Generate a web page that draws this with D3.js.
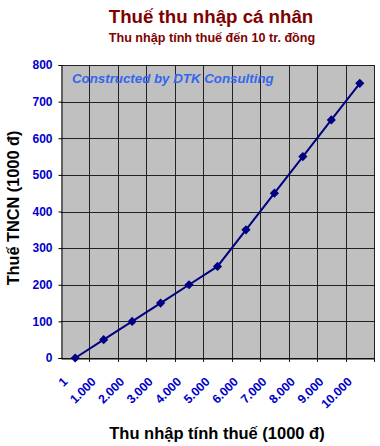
<!DOCTYPE html>
<html><head><meta charset="utf-8">
<script src="https://cdn.jsdelivr.net/npm/d3@7"></script>
<style>body{margin:0;background:#fff}svg{display:block}</style>
</head><body>
<script>
const categories = ["1","1.000","2.000","3.000","4.000","5.000","6.000","7.000","8.000","9.000","10.000"];
const taxValues = [0,50,100,150,200,250,350,450,550,650,750];
const yTicks = [0,100,200,300,400,500,600,700,800];

const W=380,H=446;
const m={left:61,right:6,top:65,bottom:88};
const FONT="Arial, 'Liberation Sans', sans-serif";
const svg=d3.select("body").append("svg").attr("width",W).attr("height",H);
const x=d3.scaleBand().domain(categories).range([m.left,W-m.right]);
const y=d3.scaleLinear().domain([0,800]).range([H-m.bottom,m.top]);

svg.append("rect").attr("x",m.left).attr("y",m.top).attr("width",W-m.right-m.left).attr("height",H-m.bottom-m.top).attr("fill","#c0c0c0");

// horizontal grid
svg.append("g").selectAll("line").data(yTicks).join("line")
  .attr("x1",m.left).attr("x2",W-m.right).attr("y1",d=>Math.round(y(d))+0.5).attr("y2",d=>Math.round(y(d))+0.5)
  .attr("stroke","#222").attr("stroke-width",1);
// vertical grid at category boundaries (with small ticks below axis)
svg.append("g").selectAll("line").data(categories).join("line")
  .attr("x1",d=>Math.round(x(d)+x.bandwidth())+0.5).attr("x2",d=>Math.round(x(d)+x.bandwidth())+0.5)
  .attr("y1",m.top).attr("y2",H-m.bottom+4)
  .attr("stroke","#222").attr("stroke-width",1);

// y axis
const ya=svg.append("g").attr("transform",`translate(${m.left+0.5},0)`)
  .call(d3.axisLeft(y).tickValues(yTicks).tickSize(3).tickPadding(6));
ya.select(".domain").attr("stroke","#000");
ya.selectAll("text").attr("fill","#0000cc").style("font","bold 12px "+FONT);

// x axis
const xa=svg.append("g").attr("transform",`translate(0,${H-m.bottom+0.5})`)
  .call(d3.axisBottom(x).tickSize(0).tickPadding(0));
xa.select(".domain").attr("stroke","#000");
xa.selectAll("text").attr("fill","#0000cc").style("font","bold 12.3px "+FONT)
  .attr("text-anchor","end").attr("dy",null)
  .attr("transform","translate(-7,24) rotate(-45)");

// watermark
svg.append("text").attr("x",72).attr("y",83).text("Constructed by DTK Consulting")
  .attr("fill","#3366ee").style("font","italic bold 13.3px "+FONT);

// line
const cx=(d,i)=>x(categories[i])+x.bandwidth()/2;
const line=d3.line().x(cx).y(d=>y(d));
svg.append("path").datum(taxValues).attr("d",line).attr("fill","none").attr("stroke","#000080").attr("stroke-width",2);
svg.append("g").selectAll("path").data(taxValues).join("path")
  .attr("d",d3.symbol(d3.symbolSquare,42))
  .attr("transform",(d,i)=>`translate(${cx(d,i)},${y(d)}) rotate(45)`)
  .attr("fill","#000080");

// titles
svg.append("text").attr("x",211).attr("y",23).attr("text-anchor","middle").text("Thuế thu nhập cá nhân")
  .attr("fill","#800000").style("font","bold 18.7px "+FONT);
svg.append("text").attr("x",212).attr("y",42).attr("text-anchor","middle").text("Thu nhập tính thuế đến 10 tr. đồng")
  .attr("fill","#800000").style("font","bold 12.6px "+FONT);
svg.append("text").attr("transform","translate(19,208) rotate(-90)").attr("text-anchor","middle").text("Thuế TNCN (1000 đ)")
  .attr("fill","#000").style("font","bold 16.3px "+FONT);
svg.append("text").attr("x",217).attr("y",439).attr("text-anchor","middle").text("Thu nhập tính thuế (1000 đ)")
  .attr("fill","#000").style("font","bold 16.5px "+FONT);
</script>
</body></html>
